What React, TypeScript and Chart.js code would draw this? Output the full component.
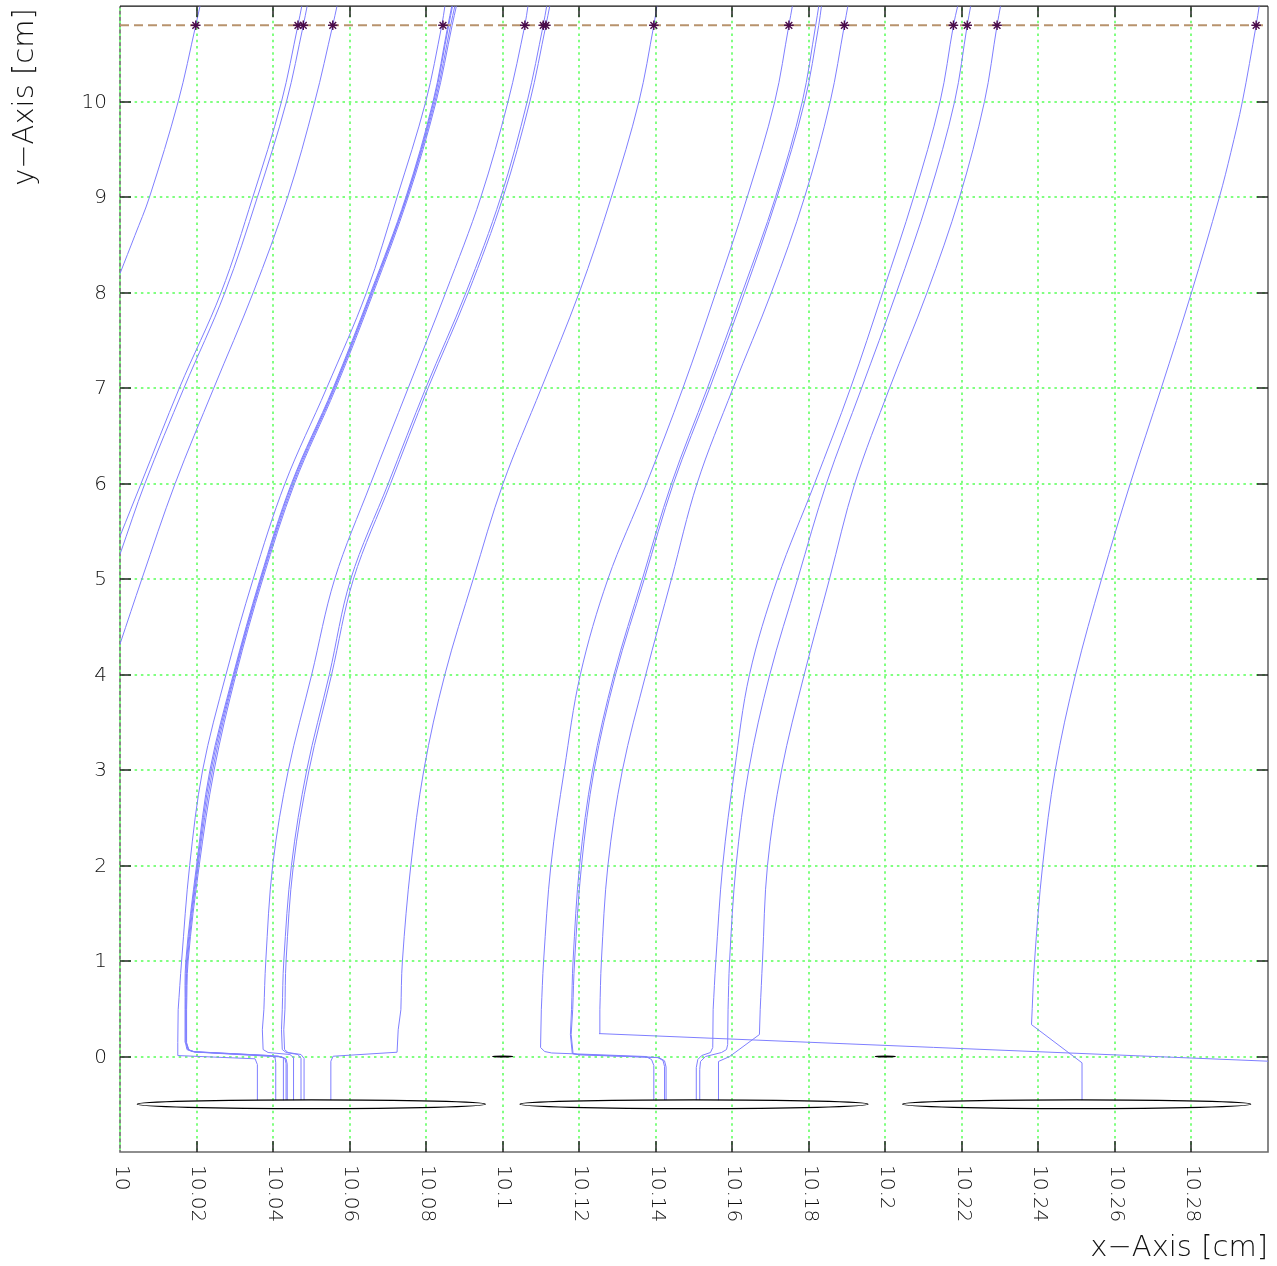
import React, { useEffect, useRef } from 'react';
import { Chart, registerables } from 'chart.js';

Chart.register(...registerables);

type P = [number, number];

// ---- axis ticks ----
const xTickValues = [10, 10.02, 10.04, 10.06, 10.08, 10.1, 10.12, 10.14, 10.16, 10.18, 10.2, 10.22, 10.24, 10.26, 10.28];
const xTickLabels = ['10', '10.02', '10.04', '10.06', '10.08', '10.1', '10.12', '10.14', '10.16', '10.18', '10.2', '10.22', '10.24', '10.26', '10.28'];
const yTickValues = [0, 1, 2, 3, 4, 5, 6, 7, 8, 9, 10];
const yTickLabels = ['0', '1', '2', '3', '4', '5', '6', '7', '8', '9', '10'];
const xTitle = 'x\u2212Axis [cm]';
const yTitle = 'y\u2212Axis [cm]';

// ---- drift trajectories (x [cm], y [cm]) ----
const driftA1: P[] = [[10.0, 8.2], [10.0039, 8.6], [10.0077, 9.0], [10.0152, 10.0], [10.0198, 10.8], [10.0209, 11.0]];
const driftA2: P[] = [[10.0, 5.45], [10.0055, 6.0], [10.0155, 7.0], [10.0264, 8.0], [10.0347, 9.0], [10.0422, 10.0], [10.0465, 10.8], [10.0475, 11.0]];
const driftA3: P[] = [[10.0, 5.26], [10.0065, 6.0], [10.0167, 7.0], [10.0274, 8.0], [10.0359, 9.0], [10.0435, 10.0], [10.0479, 10.8], [10.0489, 11.0]];
const driftA4: P[] = [[10.0, 4.32], [10.0057, 5.0], [10.0144, 6.0], [10.0245, 7.0], [10.0348, 8.0], [10.0438, 9.0], [10.0509, 10.0], [10.0556, 10.8], [10.0567, 11.0]];
const driftB0: P[] = [[10.0359, -0.456], [10.0359, -0.084], [10.0353, -0.024], [10.0151, 0.01], [10.0151, 0.146], [10.0152, 0.49], [10.0161, 1.0], [10.0182, 2.0], [10.0216, 3.0], [10.0277, 4.0], [10.0348, 5.0], [10.0431, 6.0], [10.054, 7.0], [10.0644, 8.0], [10.0724, 9.0], [10.0799, 10.0], [10.0841, 10.8], [10.0849, 11.0]];
const driftB1: P[] = [[10.0407, -0.456], [10.0407, -0.063], [10.0405, -0.01], [10.0392, 0.01], [10.0188, 0.052], [10.0175, 0.073], [10.0171, 0.146], [10.017, 0.49], [10.0172, 1.0], [10.02, 2.0], [10.0235, 3.0], [10.0296, 4.0], [10.0366, 5.0], [10.0448, 6.0], [10.0557, 7.0], [10.0655, 8.0], [10.0747, 9.0], [10.0818, 10.0], [10.0857, 10.8], [10.0867, 11.0]];
const driftB2: P[] = [[10.0428, -0.456], [10.0428, -0.07], [10.0426, -0.015], [10.0413, 0.005], [10.0193, 0.05], [10.0178, 0.073], [10.0172, 0.146], [10.0172, 0.49], [10.0176, 1.0], [10.0204, 2.0], [10.0242, 3.0], [10.03, 4.0], [10.037, 5.0], [10.0453, 6.0], [10.0561, 7.0], [10.0659, 8.0], [10.075, 9.0], [10.0823, 10.0], [10.0864, 10.8], [10.0875, 11.0]];
const driftB3: P[] = [[10.0434, -0.456], [10.0434, -0.075], [10.0431, -0.02], [10.0419, 0.0], [10.0196, 0.048], [10.018, 0.07], [10.0174, 0.146], [10.0174, 0.49], [10.0178, 1.0], [10.0207, 2.0], [10.0246, 3.0], [10.0303, 4.0], [10.0373, 5.0], [10.0456, 6.0], [10.0564, 7.0], [10.0662, 8.0], [10.0753, 9.0], [10.0826, 10.0], [10.0868, 10.8], [10.0879, 11.0]];
const driftB4: P[] = [[10.0437, -0.456], [10.0437, -0.08], [10.0434, -0.025], [10.0423, -0.005], [10.0195, 0.047], [10.0179, 0.07], [10.0173, 0.146], [10.0172, 0.49], [10.0174, 1.0], [10.0202, 2.0], [10.0238, 3.0], [10.0298, 4.0], [10.0368, 5.0], [10.045, 6.0], [10.0559, 7.0], [10.0657, 8.0], [10.0749, 9.0], [10.082, 10.0], [10.0859, 10.8], [10.0869, 11.0]];
const driftC1: P[] = [[10.0454, -0.456], [10.0454, -0.063], [10.0453, -0.01], [10.0444, 0.021], [10.0387, 0.042], [10.0374, 0.073], [10.0372, 0.28], [10.0376, 0.49], [10.0381, 1.0], [10.0399, 2.0], [10.044, 3.0], [10.0501, 4.0], [10.0561, 5.0], [10.0655, 6.0], [10.0753, 7.0], [10.0851, 8.0], [10.0943, 9.0], [10.1014, 10.0], [10.1058, 10.8], [10.1066, 11.0]];
const driftC2: P[] = [[10.0473, -0.456], [10.0473, -0.07], [10.0473, -0.02], [10.0465, 0.021], [10.0434, 0.042], [10.0424, 0.073], [10.0422, 0.28], [10.0424, 0.49], [10.0428, 1.0], [10.0448, 2.0], [10.0488, 3.0], [10.0547, 4.0], [10.0603, 5.0], [10.0701, 6.0], [10.0799, 7.0], [10.0904, 8.0], [10.0995, 9.0], [10.1064, 10.0], [10.1106, 10.8], [10.1115, 11.0]];
const driftC3: P[] = [[10.0481, -0.456], [10.0481, -0.07], [10.0481, -0.02], [10.0473, 0.021], [10.0439, 0.042], [10.043, 0.073], [10.0428, 0.28], [10.0431, 0.49], [10.0434, 1.0], [10.0453, 2.0], [10.0494, 3.0], [10.0553, 4.0], [10.061, 5.0], [10.0707, 6.0], [10.0805, 7.0], [10.091, 8.0], [10.1001, 9.0], [10.1071, 10.0], [10.1113, 10.8], [10.1123, 11.0]];
const driftD: P[] = [[10.0551, -0.456], [10.0551, -0.049], [10.0557, 0.003], [10.0724, 0.045], [10.0727, 0.28], [10.0734, 0.49], [10.0738, 1.0], [10.076, 2.0], [10.0794, 3.0], [10.0849, 4.0], [10.0923, 5.0], [10.1001, 6.0], [10.1101, 7.0], [10.12, 8.0], [10.1284, 9.0], [10.1356, 10.0], [10.1395, 10.8], [10.1403, 11.0]];
const driftE1: P[] = [[10.1395, -0.456], [10.1395, -0.094], [10.1389, -0.031], [10.1374, 0.0], [10.1128, 0.037], [10.111, 0.052], [10.1099, 0.094], [10.1101, 0.49], [10.1107, 1.0], [10.1126, 2.0], [10.1161, 3.0], [10.1203, 4.0], [10.1275, 5.0], [10.1376, 6.0], [10.1471, 7.0], [10.1557, 8.0], [10.1639, 9.0], [10.1711, 10.0], [10.1748, 10.8], [10.1757, 11.0]];
const driftE2: P[] = [[10.1423, -0.456], [10.1423, -0.104], [10.1419, -0.042], [10.1405, -0.01], [10.1196, 0.021], [10.1182, 0.031], [10.1177, 0.23], [10.118, 0.49], [10.1184, 1.0], [10.1201, 2.0], [10.1235, 3.0], [10.1291, 4.0], [10.1365, 5.0], [10.1441, 6.0], [10.1535, 7.0], [10.1626, 8.0], [10.1713, 9.0], [10.1783, 10.0], [10.1818, 10.8], [10.1826, 11.0]];
const driftE3: P[] = [[10.1427, -0.456], [10.1427, -0.11], [10.1423, -0.045], [10.1409, -0.012], [10.1199, 0.018], [10.1184, 0.03], [10.1179, 0.23], [10.1183, 0.49], [10.1188, 1.0], [10.1206, 2.0], [10.1239, 3.0], [10.1295, 4.0], [10.137, 5.0], [10.1446, 6.0], [10.1541, 7.0], [10.1632, 8.0], [10.1717, 9.0], [10.1789, 10.0], [10.1826, 10.8], [10.1833, 11.0]];
const driftE4: P[] = [[10.3, -0.049], [10.1252, 0.24], [10.1254, 0.49], [10.1258, 1.0], [10.1275, 2.0], [10.1313, 3.0], [10.1374, 4.0], [10.1441, 5.0], [10.1508, 6.0], [10.1602, 7.0], [10.1702, 8.0], [10.1789, 9.0], [10.1856, 10.0], [10.1893, 10.8], [10.1902, 11.0]];
const driftF1: P[] = [[10.1506, -0.456], [10.1506, -0.115], [10.151, -0.031], [10.152, 0.01], [10.1543, 0.042], [10.1549, 0.094], [10.155, 0.49], [10.1557, 1.0], [10.1575, 2.0], [10.1606, 3.0], [10.1645, 4.0], [10.1718, 5.0], [10.1815, 6.0], [10.1909, 7.0], [10.1993, 8.0], [10.2074, 9.0], [10.2143, 10.0], [10.2178, 10.8], [10.2189, 11.0]];
const driftF2: P[] = [[10.1515, -0.456], [10.1515, -0.136], [10.1517, -0.052], [10.153, 0.0], [10.1572, 0.042], [10.1585, 0.073], [10.1588, 0.125], [10.1589, 0.49], [10.1593, 1.0], [10.161, 2.0], [10.1643, 3.0], [10.1698, 4.0], [10.1771, 5.0], [10.1846, 6.0], [10.1938, 7.0], [10.2029, 8.0], [10.2113, 9.0], [10.2181, 10.0], [10.2214, 10.8], [10.2223, 11.0]];
const driftF3: P[] = [[10.1563, -0.456], [10.1563, -0.136], [10.1565, -0.052], [10.1593, 0.0], [10.1671, 0.23], [10.1673, 0.49], [10.1679, 1.0], [10.1692, 2.0], [10.1729, 3.0], [10.1788, 4.0], [10.1854, 5.0], [10.192, 6.0], [10.2011, 7.0], [10.2109, 8.0], [10.2194, 9.0], [10.2259, 10.0], [10.2292, 10.8], [10.2301, 11.0]];
const driftG: P[] = [[10.2514, -0.456], [10.2514, -0.066], [10.2382, 0.334], [10.239, 1.0], [10.2411, 2.0], [10.2444, 3.0], [10.2497, 4.0], [10.2565, 5.0], [10.264, 6.0], [10.2721, 7.0], [10.28, 8.0], [10.2873, 9.0], [10.2903, 9.47], [10.2933, 10.0], [10.2969, 10.8], [10.2977, 11.0]];

const drifts: P[][] = [driftA1, driftA2, driftA3, driftA4, driftB0, driftB1, driftB2, driftB3, driftB4, driftC1, driftC2, driftC3, driftD, driftE1, driftE2, driftE3, driftE4, driftF1, driftF2, driftF3, driftG];

// ---- end points on the readout plane ----
const readoutY = 10.8;
const readoutLineX = [10.0, 10.3];
const endPointX = [10.0198, 10.0465, 10.0479, 10.0556, 10.0844, 10.1058, 10.1106, 10.1113, 10.1395, 10.1748, 10.1893, 10.2178, 10.2214, 10.2292, 10.2969];

// ---- cells and wires ----
const cellCenterX = [10.05, 10.15, 10.25];
const cellCenterY = -0.5;
const cellHalfWidth = 0.0455;
const cellHalfHeight = 0.045;
const wireX = [10.1, 10.2];
const wireY = 0;
const wireHalfWidth = 0.0026;
const wireHalfHeight = 0.004;

// smooth part of a trajectory starts once it has left the bottom region
const smoothFromY = 0.3;

const FONT = "'DejaVu Sans', sans-serif";

const decor = {
  id: 'decor',
  beforeDatasetsDraw(chart: any) {
    const { ctx, chartArea: a, scales } = chart;
    const xs = scales.x;
    const ys = scales.y;
    ctx.save();
    ctx.strokeStyle = '#6a6a6a';
    ctx.lineWidth = 1.6;
    ctx.beginPath();
    ctx.moveTo(a.left, a.top);
    ctx.lineTo(a.left, a.bottom);
    ctx.lineTo(a.right, a.bottom);
    ctx.lineTo(a.right, a.top);
    ctx.stroke();
    ctx.strokeStyle = '#111';
    ctx.lineWidth = 1.3;
    ctx.beginPath();
    ctx.moveTo(a.left, a.top);
    ctx.lineTo(a.right, a.top);
    ctx.stroke();
    ctx.strokeStyle = '#80ff80';
    ctx.lineWidth = 2;
    ctx.setLineDash([2.5, 3.8]);
    for (const v of xTickValues) {
      const px = Math.round(xs.getPixelForValue(v));
      ctx.beginPath();
      ctx.moveTo(px, a.top + 2);
      ctx.lineTo(px, a.bottom - 2);
      ctx.stroke();
    }
    for (const v of yTickValues) {
      const py = Math.round(ys.getPixelForValue(v));
      ctx.beginPath();
      ctx.moveTo(a.left + 2, py);
      ctx.lineTo(a.right - 2, py);
      ctx.stroke();
    }
    ctx.restore();
  },
  afterDatasetsDraw(chart: any) {
    const { ctx, chartArea: a, scales } = chart;
    const xs = scales.x;
    const ys = scales.y;
    ctx.save();
    ctx.strokeStyle = '#000';
    ctx.lineWidth = 1.2;
    for (const c of cellCenterX) {
      const cx = xs.getPixelForValue(c);
      const cy = ys.getPixelForValue(cellCenterY);
      const rx = Math.abs(xs.getPixelForValue(c + cellHalfWidth) - cx);
      const ry = Math.abs(ys.getPixelForValue(cellCenterY + cellHalfHeight) - cy);
      ctx.beginPath();
      ctx.ellipse(cx, cy, rx, ry, 0, 0, Math.PI * 2);
      ctx.stroke();
    }
    ctx.lineWidth = 1.4;
    for (const w of wireX) {
      const cx = xs.getPixelForValue(w);
      const cy = ys.getPixelForValue(wireY);
      const rx = Math.abs(xs.getPixelForValue(w + wireHalfWidth) - cx);
      const ry = Math.abs(ys.getPixelForValue(wireY + wireHalfHeight) - cy);
      ctx.beginPath();
      ctx.ellipse(cx, cy, rx, ry, 0, 0, Math.PI * 2);
      ctx.stroke();
    }
    ctx.strokeStyle = '#222';
    ctx.lineWidth = 1.5;
    const tl = 11;
    for (const v of xTickValues) {
      if (v === xTickValues[0]) continue;
      const px = Math.round(xs.getPixelForValue(v));
      ctx.beginPath();
      ctx.moveTo(px, a.bottom);
      ctx.lineTo(px, a.bottom - tl);
      ctx.moveTo(px, a.top);
      ctx.lineTo(px, a.top + tl);
      ctx.stroke();
    }
    for (const v of yTickValues) {
      const py = Math.round(ys.getPixelForValue(v));
      ctx.beginPath();
      ctx.moveTo(a.left, py);
      ctx.lineTo(a.left + tl, py);
      ctx.moveTo(a.right, py);
      ctx.lineTo(a.right - tl, py);
      ctx.stroke();
    }
    ctx.restore();
  },
  afterDraw(chart: any) {
    const { ctx, chartArea: a, scales } = chart;
    const xs = scales.x;
    const ys = scales.y;
    ctx.save();
    ctx.fillStyle = '#111';
    ctx.font = `200 20px ${FONT}`;
    ctx.textAlign = 'right';
    ctx.textBaseline = 'middle';
    yTickValues.forEach((v, i) => {
      ctx.fillText(yTickLabels[i], a.left - 13, ys.getPixelForValue(v) + 1);
    });
    xTickValues.forEach((v, i) => {
      ctx.save();
      ctx.translate(xs.getPixelForValue(v) + 1, a.bottom + 13);
      ctx.rotate(Math.PI / 2);
      ctx.textAlign = 'left';
      ctx.textBaseline = 'middle';
      ctx.fillText(xTickLabels[i], 0, 0);
      ctx.restore();
    });
    ctx.font = `200 29px ${FONT}`;
    ctx.textAlign = 'right';
    ctx.textBaseline = 'alphabetic';
    ctx.fillText(xTitle, a.right, a.bottom + 104);
    ctx.save();
    ctx.translate(a.left - 87, a.top + 2);
    ctx.rotate(-Math.PI / 2);
    ctx.fillText(yTitle, 0, 0);
    ctx.restore();
    ctx.restore();
  },
};

export default function App() {
  const ref = useRef<HTMLCanvasElement>(null);
  useEffect(() => {
    const canvas = ref.current;
    if (!canvas) return;
    const datasets: any[] = [];
    datasets.push({
      label: 'end points',
      data: endPointX.map((x) => ({ x, y: readoutY })),
      showLine: false,
      pointStyle: 'star',
      pointRadius: 4.8,
      pointBorderWidth: 1.4,
      borderColor: '#4a0c4a',
      backgroundColor: '#4a0c4a',
    });
    datasets.push({
      label: 'readout plane',
      data: readoutLineX.map((x) => ({ x, y: readoutY })),
      showLine: true,
      borderColor: '#b8936d',
      borderWidth: 2,
      borderDash: [9, 5],
      pointRadius: 0,
    });
    drifts.forEach((d, i) => {
      const k = Math.max(0, d.findIndex(([, y]) => y >= smoothFromY));
      const lower = d.slice(0, k + 1);
      const upper = d.slice(k);
      if (lower.length > 1) {
        datasets.push({
          label: 'drift ' + i + ' start',
          data: lower.map(([x, y]) => ({ x, y })),
          showLine: true,
          borderColor: '#7f7fff',
          borderWidth: 1,
          pointRadius: 0,
          tension: 0,
        });
      }
      datasets.push({
        label: 'drift ' + i,
        data: upper.map(([x, y]) => ({ x, y })),
        showLine: true,
        borderColor: '#7f7fff',
        borderWidth: 1,
        pointRadius: 0,
        tension: 0.35,
      });
    });
    const chart = new Chart(canvas, {
      type: 'scatter',
      data: { datasets },
      options: {
        responsive: false,
        maintainAspectRatio: false,
        devicePixelRatio: 1,
        animation: false,
        events: [],
        layout: { padding: { left: 120, top: 3, right: 9, bottom: 114 } },
        plugins: { legend: { display: false }, tooltip: { enabled: false } },
        scales: {
          x: { type: 'linear', min: 10, max: 10.3, display: false },
          y: { type: 'linear', min: -1, max: 11, display: false },
        },
      },
      plugins: [decor],
    });
    return () => chart.destroy();
  }, []);
  return (
    <div style={{ position: 'absolute', left: 0, top: 0, width: 1277, height: 1266, background: '#fff' }}>
      <canvas ref={ref} width={1277} height={1266} style={{ display: 'block' }} />
    </div>
  );
}
